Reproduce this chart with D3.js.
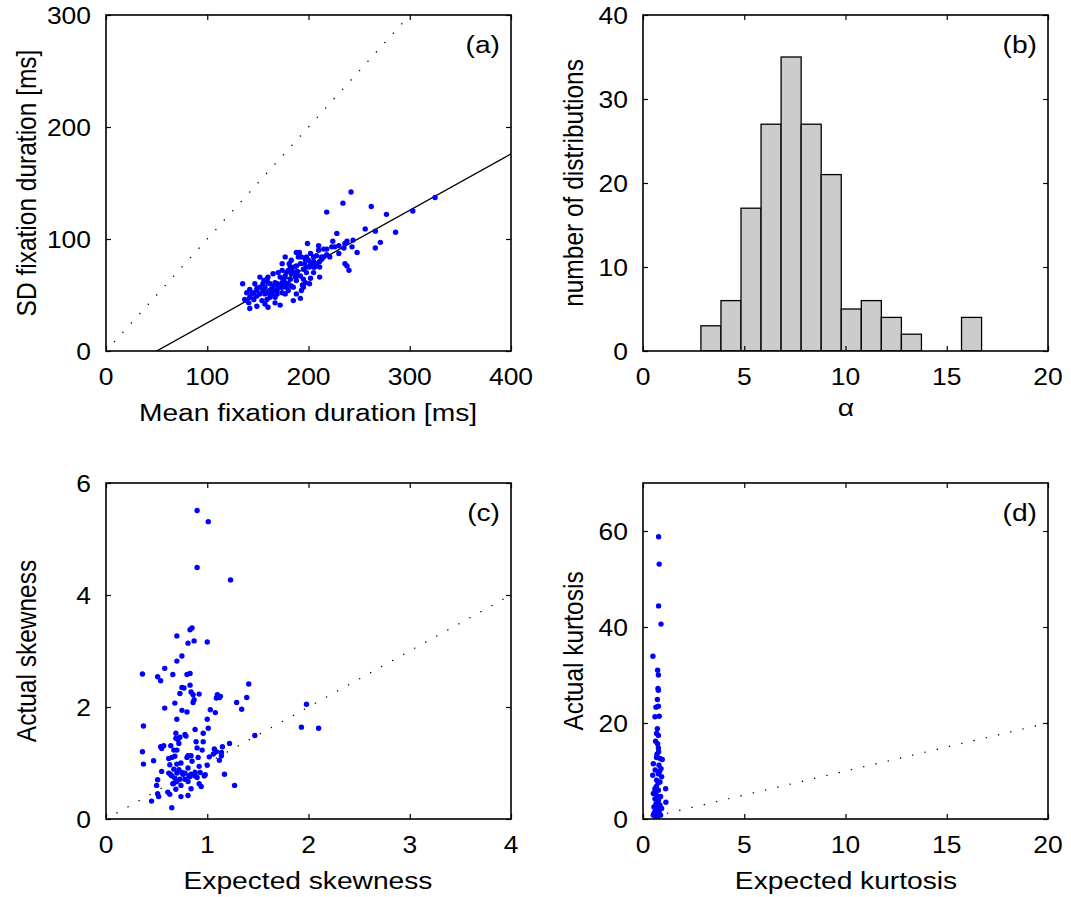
<!DOCTYPE html>
<html>
<head>
<meta charset="utf-8">
<script src="https://cdn.jsdelivr.net/npm/d3@7"></script>
<style>
  body { margin: 0; background: #fff; }
  svg { display: block; }
</style>
</head>
<body>
<svg id="fig" width="1071" height="897"></svg>
<script>
// (a) mean vs SD of fixation durations [ms]
const meanFix = [242,234,218,262,277,325,303,286,256,266,228,224,238,243,266,271,248,230,236,238,240,210,199,223,235,218,213,211,205,201,197,193,188,191,177,181,186,189,211,202,195,201,194,187,183,180,175,172,177,165,160,156,152,149,146,142,137,135,142,149,160,172,185,192,154,157,162,165,169,172,178,183,188,192,198,206,208,213,221,226,157,162,167,170,174,149,144,139,164,167,196,202,205,197,152,159,169,178,174,183,160,155,149,165,177,180,174,183,192,198,202,210,187,195,205,146,141,157,167,188,193,152,147,174,190,215,230,244,195,165,170,177,185,159,142,139,155,163,180,188,182,200,208,215,218,236,174,169,160,188,182,198,205,211];
const sdFix   = [142,132,124,129,122,137,125,106,109,107,105,98,98,93,92,97,88,87,78,76,72,94,96,93,92,86,84,80,80,75,82,84,88,88,84,78,75,71,66,65,64,60,59,66,69,60,64,57,51,56,66,63,57,56,52,48,46,60,38,40,39,41,45,47,45,51,48,54,60,66,70,72,63,67,70,75,78,82,84,93,57,60,61,58,61,49,51,45,51,48,78,78,84,61,51,46,54,57,52,58,61,60,54,58,67,72,72,81,78,84,87,90,70,73,70,46,43,42,43,51,54,66,60,78,84,91,94,99,57,69,70,61,57,64,55,52,54,55,54,76,75,81,85,84,91,96,57,51,52,67,64,75,75,75];
const fitSlope = 0.503, fitIntercept = -25.2;

// (b) histogram of alpha
const alphaStart = 2.86, alphaBinWidth = 0.99;
const alphaCounts = [3, 6, 17, 27, 35, 27, 21, 5, 6, 4, 2, 0, 0, 4];

// (c) expected vs actual skewness
const expSkew = [0.90,1.01,0.90,1.23,0.70,0.83,0.85,0.81,0.87,1.00,0.75,0.70,0.36,0.58,0.51,0.54,0.66,0.80,0.83,0.83,0.75,0.77,0.73,0.84,0.86,0.92,0.87,0.86,0.68,0.58,0.75,0.80,0.70,1.03,1.08,1.00,1.10,1.12,1.09,1.13,1.29,1.34,1.39,1.41,0.37,1.98,1.93,2.10,1.47,0.36,0.37,0.47,0.45,0.65,1.27,1.17,1.22,1.15,1.07,1.09,1.14,1.12,1.02,1.01,0.96,0.88,0.96,0.89,0.90,0.95,0.91,0.92,1.00,0.98,0.92,0.94,0.84,0.81,0.74,0.63,0.61,0.52,0.51,0.50,0.51,0.55,0.55,0.57,0.54,0.64,0.69,0.73,0.71,0.69,0.78,0.79,0.72,0.70,0.67,0.62,0.65,0.68,0.80,0.81,0.84,0.85,0.74,0.70,0.63,0.62,0.65,0.70,0.68,0.67,0.70,0.73,0.78,0.81,0.78,0.81,0.84,0.88,0.90,0.97,0.76,0.75,0.72,0.67,0.64,0.83,0.66,0.74,0.69,0.82,0.88,0.93,1.06,1.14];
const actSkew = [5.51,5.31,4.49,4.27,3.27,3.38,3.41,3.14,3.18,3.16,2.91,2.82,2.59,2.69,2.54,2.47,2.58,2.58,2.60,2.39,2.35,2.34,2.24,2.27,2.22,2.23,2.13,2.08,2.07,1.98,1.94,1.91,1.78,1.95,1.90,1.78,2.22,2.17,2.16,2.19,2.08,1.96,2.17,2.41,1.66,2.05,1.64,1.62,1.49,1.20,0.98,1.04,0.32,0.20,0.60,0.80,1.35,1.29,1.25,1.20,1.13,1.05,1.11,1.62,1.53,1.60,1.38,1.38,1.27,1.23,1.10,0.94,0.96,0.79,0.63,0.58,0.54,0.42,0.40,0.44,0.48,0.40,0.45,0.60,0.70,0.85,1.26,1.31,1.29,1.31,1.53,1.46,1.42,1.44,1.51,1.48,1.35,1.23,1.23,1.08,1.10,1.12,1.10,1.13,1.13,1.03,1.00,0.98,0.97,0.82,0.77,0.82,0.73,0.64,0.67,0.71,0.71,0.67,0.82,0.91,0.80,0.77,0.74,0.77,0.80,0.83,0.88,0.89,0.79,0.76,0.63,0.60,0.53,0.77,0.83,0.83,1.16,1.19];

// (d) expected vs actual kurtosis
const expKurt = [0.77,0.80,0.77,0.89,0.49,0.72,0.76,0.74,0.76,0.71,0.64,0.76,0.59,0.80,0.71,0.67,0.76,0.62,0.72,0.76,0.67,0.84,0.95,0.51,0.79,0.89,0.48,0.76,0.92,0.67,0.84,1.12,0.59,0.76,0.51,0.67,0.87,0.59,0.76,1.13,0.64,0.84,0.54,0.71,0.92,0.59,0.80,0.51,0.67,0.87,0.64,0.55,0.72,0.62,0.70,0.78,0.58,0.66,0.74,0.82,0.60,0.69,0.77,0.55,0.73,0.64,0.80];
const actKurt = [58.8,53.1,44.4,40.6,33.9,31.0,30.0,27.2,26.8,24.9,23.3,23.5,21.3,21.4,18.8,17.8,17.4,16.2,15.7,14.8,12.8,12.6,12.4,11.5,11.2,10.5,9.1,9.4,8.8,8.1,7.7,6.3,6.3,6.0,5.3,4.9,4.7,4.2,3.9,3.5,3.2,2.9,2.5,2.2,2.2,1.5,1.3,0.8,0.6,0.8,0.5,1.0,1.8,2.6,3.6,4.4,5.6,6.8,7.5,9.9,10.2,13.5,14.0,1.2,0.4,2.0,3.0];

const FONT = '"Liberation Sans", Arial, Helvetica, sans-serif';
const SX = 1.15;       // horizontal stretch of the lettering
const TICK_FS = 23, LABEL_FS = 24.5;

const svg = d3.select('#fig');

function label(g, x, y, s, size, anchor, rotate) {
  g.append('text')
    .attr('transform', `translate(${x},${y}) scale(${SX},1)` + (rotate ? ' rotate(-90)' : ''))
    .attr('text-anchor', anchor)
    .attr('font-family', FONT)
    .attr('font-size', size)
    .attr('fill', '#000')
    .text(s);
}

// a MATLAB style box: ticks inside on all four sides
function panel(x0, y0, xDomain, yDomain, xTicks, yTicks) {
  const w = 405, h = 336;
  const x = d3.scaleLinear().domain(xDomain).range([x0, x0 + w]);
  const y = d3.scaleLinear().domain(yDomain).range([y0 + h, y0]);
  const g = svg.append('g');
  const clipId = 'clip' + x0 + '_' + y0;
  svg.append('clipPath').attr('id', clipId)
    .append('rect').attr('x', x0).attr('y', y0).attr('width', w).attr('height', h);
  const plot = g.append('g').attr('clip-path', `url(#${clipId})`);
  const frame = g.append('g');

  frame.append('g').attr('transform', `translate(0,${y0 + h})`)
    .call(d3.axisBottom(x).tickValues(xTicks).tickSize(-5).tickFormat(''));
  frame.append('g').attr('transform', `translate(0,${y0})`)
    .call(d3.axisTop(x).tickValues(xTicks).tickSize(-5).tickFormat(''));
  frame.append('g').attr('transform', `translate(${x0},0)`)
    .call(d3.axisLeft(y).tickValues(yTicks).tickSize(-5).tickFormat(''));
  frame.append('g').attr('transform', `translate(${x0 + w},0)`)
    .call(d3.axisRight(y).tickValues(yTicks).tickSize(-5).tickFormat(''));
  frame.selectAll('.domain').remove();
  frame.selectAll('.tick line').attr('stroke', '#000').attr('stroke-width', 1.2);
  frame.append('rect').attr('x', x0).attr('y', y0).attr('width', w).attr('height', h)
    .attr('fill', 'none').attr('stroke', '#000').attr('stroke-width', 1.6);

  xTicks.forEach(t => label(g, x(t), y0 + h + 34, String(t), TICK_FS, 'middle'));
  yTicks.forEach(t => label(g, x0 - 15, y(t) + 9, String(t), TICK_FS, 'end'));
  return {x, y, g, plot, x0, y0, w, h};
}

function dotted(p, a, b) {
  p.plot.append('line')
    .attr('x1', p.x(a)).attr('y1', p.y(a))
    .attr('x2', p.x(b)).attr('y2', p.y(b))
    .attr('stroke', '#000').attr('stroke-width', 1.4)
    .attr('stroke-linecap', 'round')
    .attr('stroke-dasharray', '0.1,12.5');
}

function scatter(p, xs, ys) {
  p.plot.selectAll('circle.pt').data(xs.map((v, i) => [v, ys[i]]))
    .join('circle').attr('class', 'pt')
    .attr('cx', d => p.x(d[0])).attr('cy', d => p.y(d[1]))
    .attr('r', 2.7).attr('fill', '#0000ff');
}

function tag(p, s) {
  label(p.g, p.x0 + p.w - 11, p.y0 + 38, s, LABEL_FS, 'end');
}

// ---- (a)
const pa = panel(106, 15, [0, 400], [0, 300], [0, 100, 200, 300, 400], [0, 100, 200, 300]);
dotted(pa, 0, 300);
pa.plot.append('line')
  .attr('x1', pa.x(0)).attr('y1', pa.y(fitIntercept))
  .attr('x2', pa.x(400)).attr('y2', pa.y(fitSlope * 400 + fitIntercept))
  .attr('stroke', '#000').attr('stroke-width', 1.3);
scatter(pa, meanFix, sdFix);
tag(pa, '(a)');
label(pa.g, 308, 421, 'Mean fixation duration [ms]', LABEL_FS, 'middle');
label(pa.g, 36, 183, 'SD fixation duration [ms]', LABEL_FS, 'middle', true);

// ---- (b)
const pb = panel(643, 15, [0, 20], [0, 40], [0, 5, 10, 15, 20], [0, 10, 20, 30, 40]);
const bins = alphaCounts.map((c, i) => ({x0: alphaStart + i * alphaBinWidth, x1: alphaStart + (i + 1) * alphaBinWidth, n: c}));
pb.plot.selectAll('rect.bar').data(bins)
  .join('rect').attr('class', 'bar')
  .attr('x', d => pb.x(d.x0)).attr('width', d => pb.x(d.x1) - pb.x(d.x0))
  .attr('y', d => pb.y(d.n)).attr('height', d => pb.y(0) - pb.y(d.n))
  .attr('fill', '#cccccc').attr('stroke', '#000').attr('stroke-width', 1.3);
tag(pb, '(b)');
label(pb.g, 846, 416, 'α', LABEL_FS, 'middle');
label(pb.g, 583, 183, 'number of distributions', LABEL_FS, 'middle', true);

// ---- (c)
const pc = panel(106, 483, [0, 4], [0, 6], [0, 1, 2, 3, 4], [0, 2, 4, 6]);
dotted(pc, 0, 4);
scatter(pc, expSkew, actSkew);
tag(pc, '(c)');
label(pc.g, 308, 889, 'Expected skewness', LABEL_FS, 'middle');
label(pc.g, 36, 651, 'Actual skewness', LABEL_FS, 'middle', true);

// ---- (d)
const pd = panel(643, 483, [0, 20], [0, 70], [0, 5, 10, 15, 20], [0, 20, 40, 60]);
dotted(pd, 0, 20);
scatter(pd, expKurt, actKurt);
tag(pd, '(d)');
label(pd.g, 846, 889, 'Expected kurtosis', LABEL_FS, 'middle');
label(pd.g, 583, 651, 'Actual kurtosis', LABEL_FS, 'middle', true);
</script>
</body>
</html>
